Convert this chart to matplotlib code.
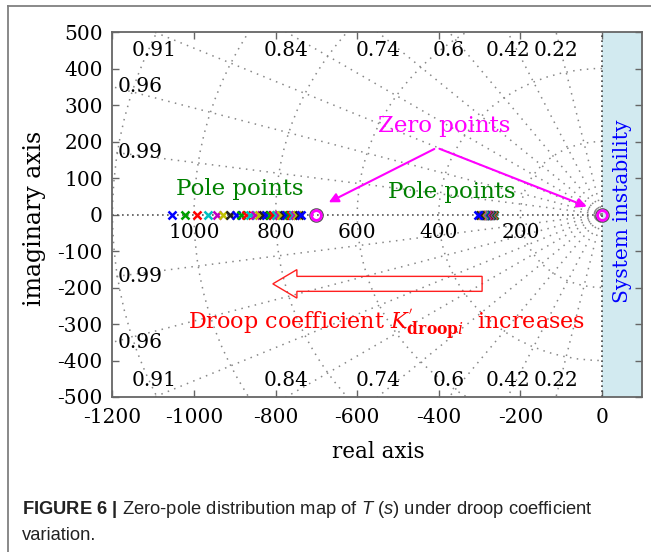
import numpy as np
import matplotlib
matplotlib.use("Agg")
import matplotlib.pyplot as plt
from matplotlib.patches import Arc, FancyArrow, Rectangle
from matplotlib.lines import Line2D

plt.rcParams['font.family'] = 'DejaVu Serif'
plt.rcParams['axes.unicode_minus'] = False
plt.rcParams['mathtext.fontset'] = 'custom'
plt.rcParams['mathtext.rm'] = 'Liberation Sans'
plt.rcParams['mathtext.it'] = 'Liberation Sans:italic'
plt.rcParams['mathtext.bf'] = 'Liberation Sans:bold'

# poles of the low-frequency branch, one per droop coefficient step
pole_re_1 = [-1053, -1022, -994, -966, -945, -928, -912, -898, -885, -873,
             -862, -851, -841, -832, -823, -815, -807, -800, -793, -786,
             -780, -774, -768, -763, -758, -753, -748, -743, -737]
# poles of the second branch (same steps, moving left)
pole_re_2 = [-264, -266, -268, -270, -271, -272, -273, -274, -275, -276,
             -277, -278, -279, -280, -281, -282, -283, -284, -285, -286,
             -287, -288, -290, -291, -293, -295, -297, -300, -303]
zero_re = [-700, 0]

damping = [0.22, 0.42, 0.6, 0.74, 0.84, 0.91, 0.96, 0.99]
wn = [200, 400, 600, 800, 1000, 1200]
wn_labels = [200, 400, 600, 800, 1000]

x_ticks = [-1200, -1000, -800, -600, -400, -200, 0]
y_ticks = [-500, -400, -300, -200, -100, 0, 100, 200, 300, 400, 500]

PLOT_COLORS = ['#0000ff', '#00a000', '#ff0000', '#00c0c0',
               '#c000c0', '#c0c000', '#202020']

XMIN, XMAX = -1200, 98
YMIN, YMAX = -500, 500

fig = plt.figure(figsize=(6.51, 5.52), dpi=100)
ax = fig.add_axes([0.1728, 0.2808, 0.8134, 0.6612])
ax.set_xlim(XMIN, XMAX)
ax.set_ylim(YMIN, YMAX)

grid_kw = dict(color='#888888', lw=1.1, linestyle=(0, (1, 3.5)), zorder=1)

# unstable half plane
ax.add_patch(Rectangle((0, YMIN), XMAX, YMAX - YMIN, facecolor='#d2eaf0',
                       edgecolor='none', zorder=0))
ax.axvline(0, color='#444444', lw=1.2, linestyle=(0, (1, 2)), zorder=2)
ax.plot([XMIN, 0], [0, 0], color='#555555', lw=1.2,
        linestyle=(0, (1, 2)), zorder=2)

# constant damping rays
for z in damping:
    s = np.sqrt(1 - z ** 2)
    for sign in (1, -1):
        ax.plot([0, -2000 * z], [0, sign * 2000 * s], **grid_kw)
    re_top = -YMAX * z / s
    if re_top > XMIN:
        for y in (450, -455):
            ax.text(re_top, y, f'{z:g}', ha='center', va='center',
                    fontsize=14.5, zorder=3)
    else:
        im_left = -XMIN * s / z
        for y in (im_left, -im_left):
            ax.text(XMIN + 12, y, f'{z:g}', ha='left', va='center',
                    fontsize=14.5, zorder=3)

# constant natural frequency arcs
for w in wn:
    ax.add_patch(Arc((0, 0), 2 * w, 2 * w, theta1=90, theta2=270, **grid_kw))
for w in wn_labels:
    ax.text(-w, -50, f'{w}', ha='center', va='center', fontsize=14.5, zorder=3)

# poles and zeros
for i, (p1, p2) in enumerate(zip(pole_re_1, pole_re_2)):
    c = PLOT_COLORS[i % len(PLOT_COLORS)]
    ax.plot([p1, p2], [0, 0], 'x', color=c, ms=6, mew=1.8, zorder=4)
for z0 in zero_re:
    ax.plot(z0, 0, 'o', mfc='none', mec='#555555', ms=9.5, mew=1, zorder=5)
    ax.plot(z0, 0, 'o', mfc='none', mec='#ff00ff', ms=7, mew=2, zorder=6)

# annotations
ax.text(-888, 69, 'Pole points', color='#008000', fontsize=16.5,
        ha='center', va='center', zorder=7)
ax.text(-368, 63, 'Pole points', color='#008000', fontsize=16.5,
        ha='center', va='center', zorder=7)
ax.text(-387, 242, 'Zero points', color='#ff00ff', fontsize=16.5,
        ha='center', va='center', zorder=7)
arrow_kw = dict(arrowstyle='-|>', color='#ff00ff', lw=1.5, mutation_scale=14)
ax.annotate('', xy=(-676, 30), xytext=(-405, 183), arrowprops=arrow_kw, zorder=7)
ax.annotate('', xy=(-31, 19), xytext=(-405, 183), arrowprops=arrow_kw, zorder=7)

ax.add_patch(FancyArrow(-294, -190, -513, 0, width=41, head_width=78,
                        head_length=59, length_includes_head=True,
                        fill=False, edgecolor='#ff2020', lw=1.0, zorder=7))
ax.text(-528, -302,
        r"Droop coefficient $K^{'}_{\mathbf{droop}\mathit{i}}$  increases",
        color='#ff0000', fontsize=16, ha='center', va='center',
        math_fontfamily='dejavuserif', zorder=7)

ax.text(XMAX / 2, 10, 'System instability', color='#0000ff', fontsize=14.5,
        rotation=90, ha='center', va='center', zorder=7)

ax.set_xticks(x_ticks)
ax.set_yticks(y_ticks)
ax.tick_params(axis='both', direction='in', top=True, right=True, length=5,
               width=1, color='#666666', labelsize=14.5)
ax.tick_params(axis='x', pad=8)
ax.tick_params(axis='y', pad=7)
for sp in ax.spines.values():
    sp.set_color('#666666')
    sp.set_linewidth(1.3)
    sp.set_zorder(8)

fig.text(378 / 651, 1 - 452 / 552, 'real axis', fontsize=15.5,
         ha='center', va='center')
fig.text(35 / 651, 1 - 218 / 552, 'imaginary axis', fontsize=17,
         rotation=90, ha='center', va='center')

# card frame
fig.add_artist(Line2D([8 / 651, 1], [1 - 6 / 552, 1 - 6 / 552],
                      color='#808080', lw=1.3))
fig.add_artist(Line2D([8 / 651, 8 / 651], [0, 1 - 6 / 552],
                      color='#808080', lw=1.3))

fig.text(22 / 651, 1 - 509 / 552,
         r"$\mathbf{FIGURE\ 6\ |}$ Zero-pole distribution map of $\mathit{T}$ "
         r"($\mathit{s}$) under droop coefficient",
         fontsize=13.2, family='Liberation Sans', color='#222222',
         ha='left', va='center', math_fontfamily='custom')
fig.text(22 / 651, 1 - 536 / 552, 'variation.', fontsize=13.2,
         family='Liberation Sans', color='#222222', ha='left', va='center')

fig.savefig('out.png', dpi=100)
